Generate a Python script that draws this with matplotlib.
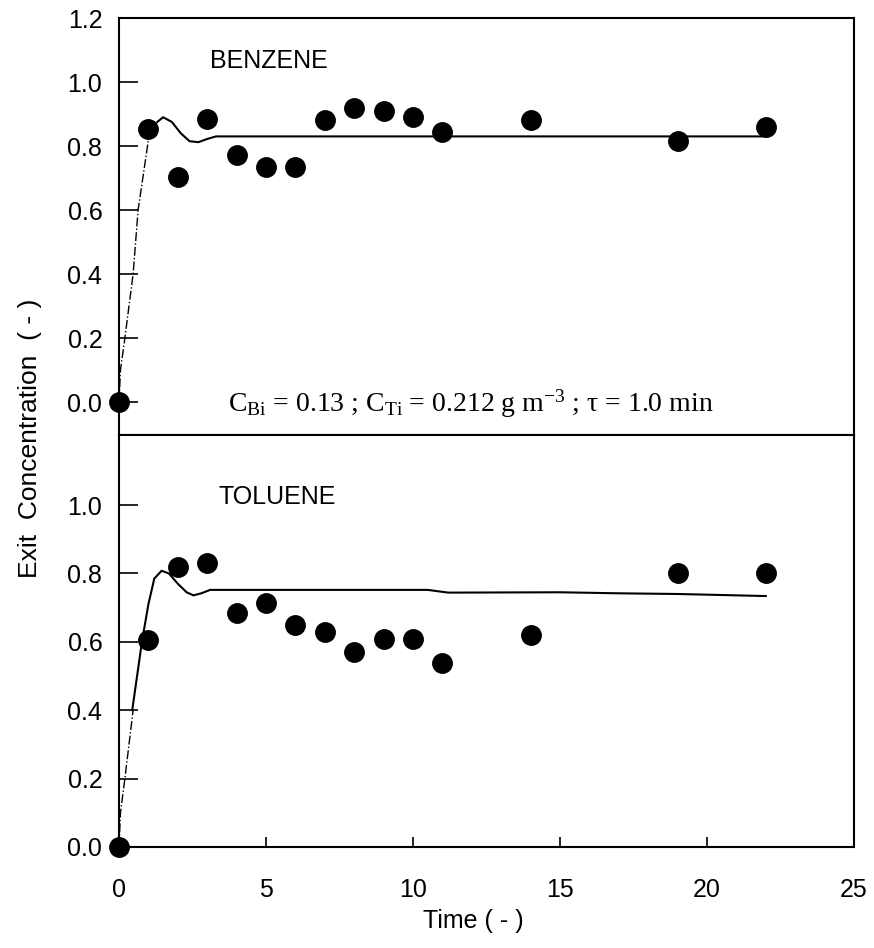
import matplotlib
matplotlib.use("Agg")
import matplotlib.pyplot as plt

plt.rcParams['font.family'] = ['Liberation Sans', 'DejaVu Sans']
plt.rcParams['mathtext.fontset'] = 'custom'
plt.rcParams['mathtext.rm'] = 'Liberation Serif'
plt.rcParams['mathtext.it'] = 'Liberation Serif:italic'

# Benzene data
t_obs_b = [0, 1, 2, 3, 4, 5, 6, 7, 8, 9, 10, 11, 14, 19, 22]
c_obs_b = [0.0, 0.853, 0.703, 0.884, 0.772, 0.735, 0.735, 0.88, 0.919, 0.91, 0.89, 0.845, 0.88, 0.816, 0.858]
t_mod_b = [1.3, 1.5, 1.8, 2.1, 2.4, 2.7, 3.0, 3.3, 5, 10, 15, 20, 22]
c_mod_b = [0.875, 0.89, 0.875, 0.84, 0.815, 0.812, 0.822, 0.83, 0.83, 0.83, 0.83, 0.83, 0.83]
t_ramp_b = [0.0, 0.05, 0.2, 0.48, 0.65, 1.05]
c_ramp_b = [0.0, 0.1, 0.2, 0.4, 0.6, 0.85]

# Toluene data
t_obs_t = [0, 1, 2, 3, 4, 5, 6, 7, 8, 9, 10, 11, 14, 19, 22]
c_obs_t = [0.0, 0.605, 0.82, 0.83, 0.684, 0.713, 0.65, 0.63, 0.57, 0.608, 0.608, 0.538, 0.62, 0.80, 0.80]
t_mod_t = [0.45, 0.78, 1.0, 1.2, 1.45, 1.7, 2.0, 2.3, 2.53, 2.8, 3.1, 6, 9, 10.5, 11.2, 15, 17, 19, 22]
c_mod_t = [0.40, 0.60, 0.71, 0.785, 0.808, 0.80, 0.77, 0.745, 0.736, 0.742, 0.752, 0.752, 0.752, 0.752, 0.744, 0.745, 0.742, 0.740, 0.734]
t_ramp_t = [0.0, 0.05, 0.2, 0.48]
c_ramp_t = [0.0, 0.1, 0.2, 0.4]

yticks_top = [0.0, 0.2, 0.4, 0.6, 0.8, 1.0, 1.2]
yticks_bot = [0.0, 0.2, 0.4, 0.6, 0.8, 1.0]
xticks = [0, 5, 10, 15, 20, 25]

fig = plt.figure(figsize=(8.74, 9.48), dpi=100)
L, R = 119 / 874, 854 / 874
ax1 = fig.add_axes([L, 1 - 435 / 948, R - L, (435 - 18) / 948])
ax2 = fig.add_axes([L, 1 - 847 / 948, R - L, (847 - 435) / 948])

for ax in (ax1, ax2):
    for s in ax.spines.values():
        s.set_linewidth(1.5)
    ax.set_xlim(0, 25)
    ax.tick_params(axis='y', direction='in', length=14, width=1.2, labelsize=18, pad=12)
    ax.tick_params(axis='x', direction='in', length=7, width=1.2, labelsize=18, pad=22)

ax1.set_ylim(-0.103, 1.2)
ax1.set_yticks(yticks_top)
ax1.set_yticklabels([f"{v:.1f}" for v in yticks_top])
ax1.set_xticks([])

ax2.set_ylim(0, 1.205)
ax2.set_yticks(yticks_bot)
ax2.set_yticklabels([f"{v:.1f}" for v in yticks_bot])
ax2.set_xticks(xticks)
ax2.set_xticklabels([str(v) for v in xticks])

# Benzene
ax1.plot(t_ramp_b, c_ramp_b, color='black', lw=1.0, ls='-.')
ax1.plot(t_mod_b, c_mod_b, color='black', lw=1.5)
ax1.plot(t_obs_b, c_obs_b, 'o', color='black', ms=14, clip_on=False, zorder=5)
ax1.text(3.1, 1.066, 'BENZENE', fontsize=18, va='center', ha='left')
ax1.text(3.7, -0.005,
         r'$\mathrm{C_{Bi}}$ = 0.13 ; $\mathrm{C_{Ti}}$ = 0.212 g m$^{\mathrm{-3}}$ ; τ = 1.0 min',
         fontsize=20, va='center', ha='left', family=['Liberation Serif', 'DejaVu Serif'])

# Toluene
ax2.plot(t_ramp_t, c_ramp_t, color='black', lw=1.0, ls='-.')
ax2.plot(t_mod_t, c_mod_t, color='black', lw=1.5)
ax2.plot(t_obs_t, c_obs_t, 'o', color='black', ms=14, clip_on=False, zorder=5)
ax2.text(3.37, 1.023, 'TOLUENE', fontsize=18, va='center', ha='left')

fig.text(30 / 874, 1 - 438 / 948, 'Exit  Concentration  ( - )', rotation=90,
         fontsize=19, va='center', ha='center')
fig.text(473 / 874, 1 - 921 / 948, 'Time ( - )', fontsize=18, va='center', ha='center')

fig.savefig('out.png', dpi=100)
